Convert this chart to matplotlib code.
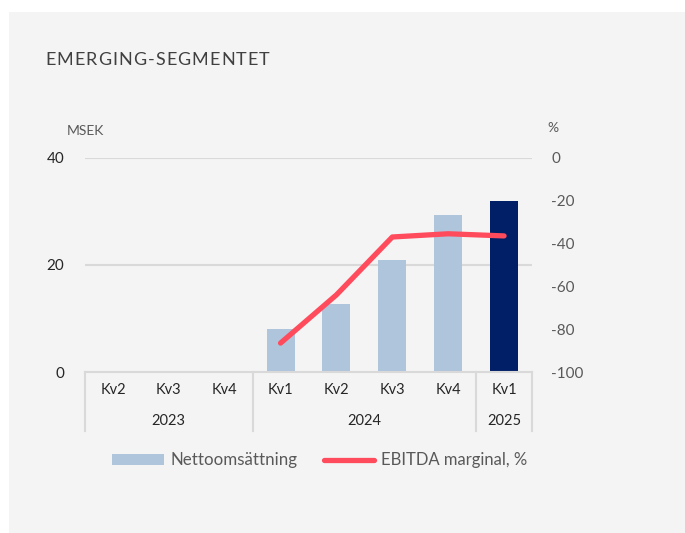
import matplotlib
matplotlib.use("Agg")
import matplotlib.pyplot as plt
from matplotlib.patches import Rectangle
from matplotlib.lines import Line2D

plt.rcParams['font.family'] = ['Lato', 'DejaVu Sans']
plt.rcParams['axes.unicode_minus'] = False

quarters = ["Kv2", "Kv3", "Kv4", "Kv1", "Kv2", "Kv3", "Kv4", "Kv1"]
years = ["2023", "2024", "2025"]
year_spans = [3, 4, 1]
sales = [None, None, None, 8.0, 12.7, 20.9, 29.3, 31.9]
ebitda = [None, None, None, -86.5, -64.0, -37.0, -35.5, -36.5]

W, H = 685, 533
fig = plt.figure(figsize=(W/100, H/100), dpi=100)
fig.patch.set_facecolor("white")
fig.add_artist(Rectangle((9/W, 0), 1 - 9/W, 1 - 12/H, transform=fig.transFigure,
                         facecolor="#f4f4f4", edgecolor="none", zorder=0))

x0, x1 = 85, 532
ytop, ybot = 157.7, 372
ax = fig.add_axes([x0/W, 1 - ybot/H, (x1-x0)/W, (ybot-ytop)/H])
ax.set_facecolor("none")
ax.set_xlim(-0.5, len(quarters) - 0.5)
ax.set_ylim(0, 40)
ax.set_yticks([0, 20, 40])
for y in [20, 40]:
    ax.axhline(y, color="#d9d9d9", lw=1.5, zorder=1)
for s in ["top", "right", "left"]:
    ax.spines[s].set_visible(False)
ax.spines["bottom"].set_color("#d9d9d9")
ax.spines["bottom"].set_linewidth(1.5)
ax.tick_params(axis="y", length=0, labelsize=11, labelcolor="#262626", pad=15)
ax.set_xticks([])

colors = ["#afc5dc"] * 7 + ["#001f66"]
for i, v in enumerate(sales):
    if v is not None:
        ax.bar(i, v, width=0.5, color=colors[i], zorder=2)

ax2 = ax.twinx()
ax2.set_ylim(-100, 0)
ax2.set_yticks([-100, -80, -60, -40, -20, 0])
for s in ["top", "right", "left", "bottom"]:
    ax2.spines[s].set_visible(False)
ax2.tick_params(axis="y", length=0, labelsize=11, labelcolor="#595959", pad=14)
for lbl in ax2.get_yticklabels():
    lbl.set_horizontalalignment("left")
xs = [i for i, v in enumerate(ebitda) if v is not None]
ys = [v for v in ebitda if v is not None]
ax2.plot(xs, ys, color="#ff4b5c", lw=3.8, solid_capstyle="round",
         solid_joinstyle="round", zorder=3)

# category axis labels and separators
for i, q in enumerate(quarters):
    fig.text((x0 + (i + 0.5) * (x1 - x0) / 8) / W, 1 - 390/H, q,
             ha="center", va="center", fontsize=10.5, color="#262626")
pos = 0
bounds = [0]
for yr, sp in zip(years, year_spans):
    c = pos + sp / 2
    fig.text((x0 + c * (x1 - x0) / 8) / W, 1 - 421/H, yr,
             ha="center", va="center", fontsize=10.5, color="#262626")
    pos += sp
    bounds.append(pos)
for b in bounds:
    xp = (x0 + b * (x1 - x0) / 8) / W
    fig.add_artist(Line2D([xp, xp], [1 - 372/H, 1 - 431/H], transform=fig.transFigure,
                          color="#d9d9d9", lw=1.5))

fig.text(67/W, 1 - 131/H, "MSEK", ha="left", va="center", fontsize=10, color="#595959")
fig.text(547/W, 1 - 128/H, "%", ha="left", va="center", fontsize=10, color="#595959")

# title with letter spacing
title = "EMERGING-SEGMENTET"
fig.canvas.draw()
r = fig.canvas.get_renderer()
xpos = 45
for ch in title:
    t = fig.text(xpos/W, 1 - 60/H, ch, ha="left", va="center", fontsize=13,
                 color="#404040")
    bb = t.get_window_extent(renderer=r)
    xpos += bb.width + 1.1

# legend
fig.add_artist(Rectangle((112/W, 1 - 465/H), 52/W, 11/H, transform=fig.transFigure,
                         facecolor="#afc5dc", edgecolor="none"))
fig.text(170/W, 1 - 460/H, "Nettoomsättning", ha="left", va="center", fontsize=12.2,
         color="#595959")
fig.add_artist(Line2D([324/W, 374/W], [1 - 460/H, 1 - 460/H], transform=fig.transFigure,
                      color="#ff4b5c", lw=3.8, solid_capstyle="round"))
fig.text(381/W, 1 - 460/H, "EBITDA marginal, %", ha="left", va="center", fontsize=12,
         color="#595959")

fig.savefig("out.png", dpi=100, facecolor=fig.get_facecolor())
